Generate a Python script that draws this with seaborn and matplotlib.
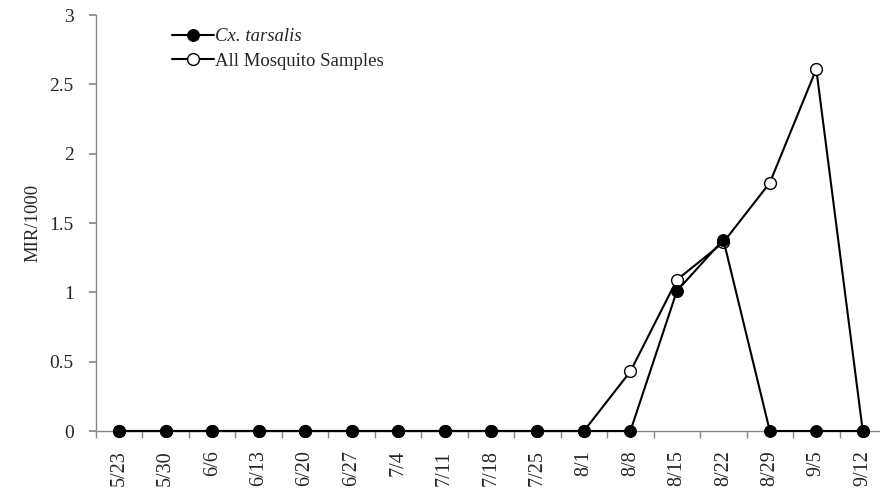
import matplotlib.pyplot as plt
import pandas as pd
import seaborn as sns

dates = ['5/23', '5/30', '6/6', '6/13', '6/20', '6/27', '7/4', '7/11', '7/18',
         '7/25', '8/1', '8/8', '8/15', '8/22', '8/29', '9/5', '9/12']
tarsalis = [0, 0, 0, 0, 0, 0, 0, 0, 0, 0, 0, 0, 1.01, 1.38, 0, 0, 0]
all_samples = [0, 0, 0, 0, 0, 0, 0, 0, 0, 0, 0, 0.43, 1.09, 1.36, 1.79, 2.61, 0]

df = pd.DataFrame({'idx': range(len(dates)), 'Date': dates,
                   'tarsalis': tarsalis, 'all': all_samples})

sns.set_theme(style='white')
plt.rcParams['font.family'] = ['Liberation Serif', 'DejaVu Serif']

fig = plt.figure(figsize=(8.8, 4.96), dpi=100)
ax = fig.add_axes([96 / 880, 1 - 431 / 496, 790 / 880, 416 / 496])

sns.lineplot(data=df, x='idx', y='all', ax=ax, color='black', lw=1.5,
             marker='o', markersize=8.5, markerfacecolor='white',
             markeredgecolor='black', markeredgewidth=1.0,
             label='All Mosquito Samples', zorder=3, clip_on=False)
sns.lineplot(data=df, x='idx', y='tarsalis', ax=ax, color='black', lw=1.5,
             marker='o', markersize=8.5, markerfacecolor='black',
             markeredgecolor='black', label='Cx. tarsalis', zorder=4,
             clip_on=False)

ax.set_xlim(-0.5, len(dates) - 0.5)
ax.set_ylim(0, 3)
ax.set_yticks([0, 0.5, 1, 1.5, 2, 2.5, 3])
ax.set_yticklabels(['0', '0.5', '1', '1.5', '2', '2.5', '3'], fontsize=14)
ax.set_xticks(range(len(dates)))
ax.set_xticklabels(dates, rotation=90, fontsize=14.5)
ax.set_xticks([i - 0.5 for i in range(len(dates) + 1)], minor=True)
ax.tick_params(axis='x', which='major', length=0, pad=14)
ax.tick_params(axis='x', which='minor', length=5, color='#888888',
               direction='out', bottom=True)
ax.tick_params(axis='y', length=5, color='#888888', direction='out', left=True,
               pad=11)
ax.set_xlabel('')
ax.set_ylabel('MIR/1000', fontsize=13.5, labelpad=6)

for side in ['top', 'right']:
    ax.spines[side].set_visible(False)
for side in ['left', 'bottom']:
    ax.spines[side].set_color('#888888')
    ax.spines[side].set_linewidth(1.0)
ax.spines['bottom'].set_zorder(1)

handles, labels = ax.get_legend_handles_labels()
leg = ax.legend(handles[::-1], labels[::-1], loc='upper left',
                bbox_to_anchor=(0.08, 1.0), frameon=False, fontsize=13.5,
                handlelength=2.2, handletextpad=0.1, labelspacing=0.4,
                borderaxespad=0.3)
leg.get_texts()[0].set_style('italic')

fig.savefig('out.png', dpi=100)
